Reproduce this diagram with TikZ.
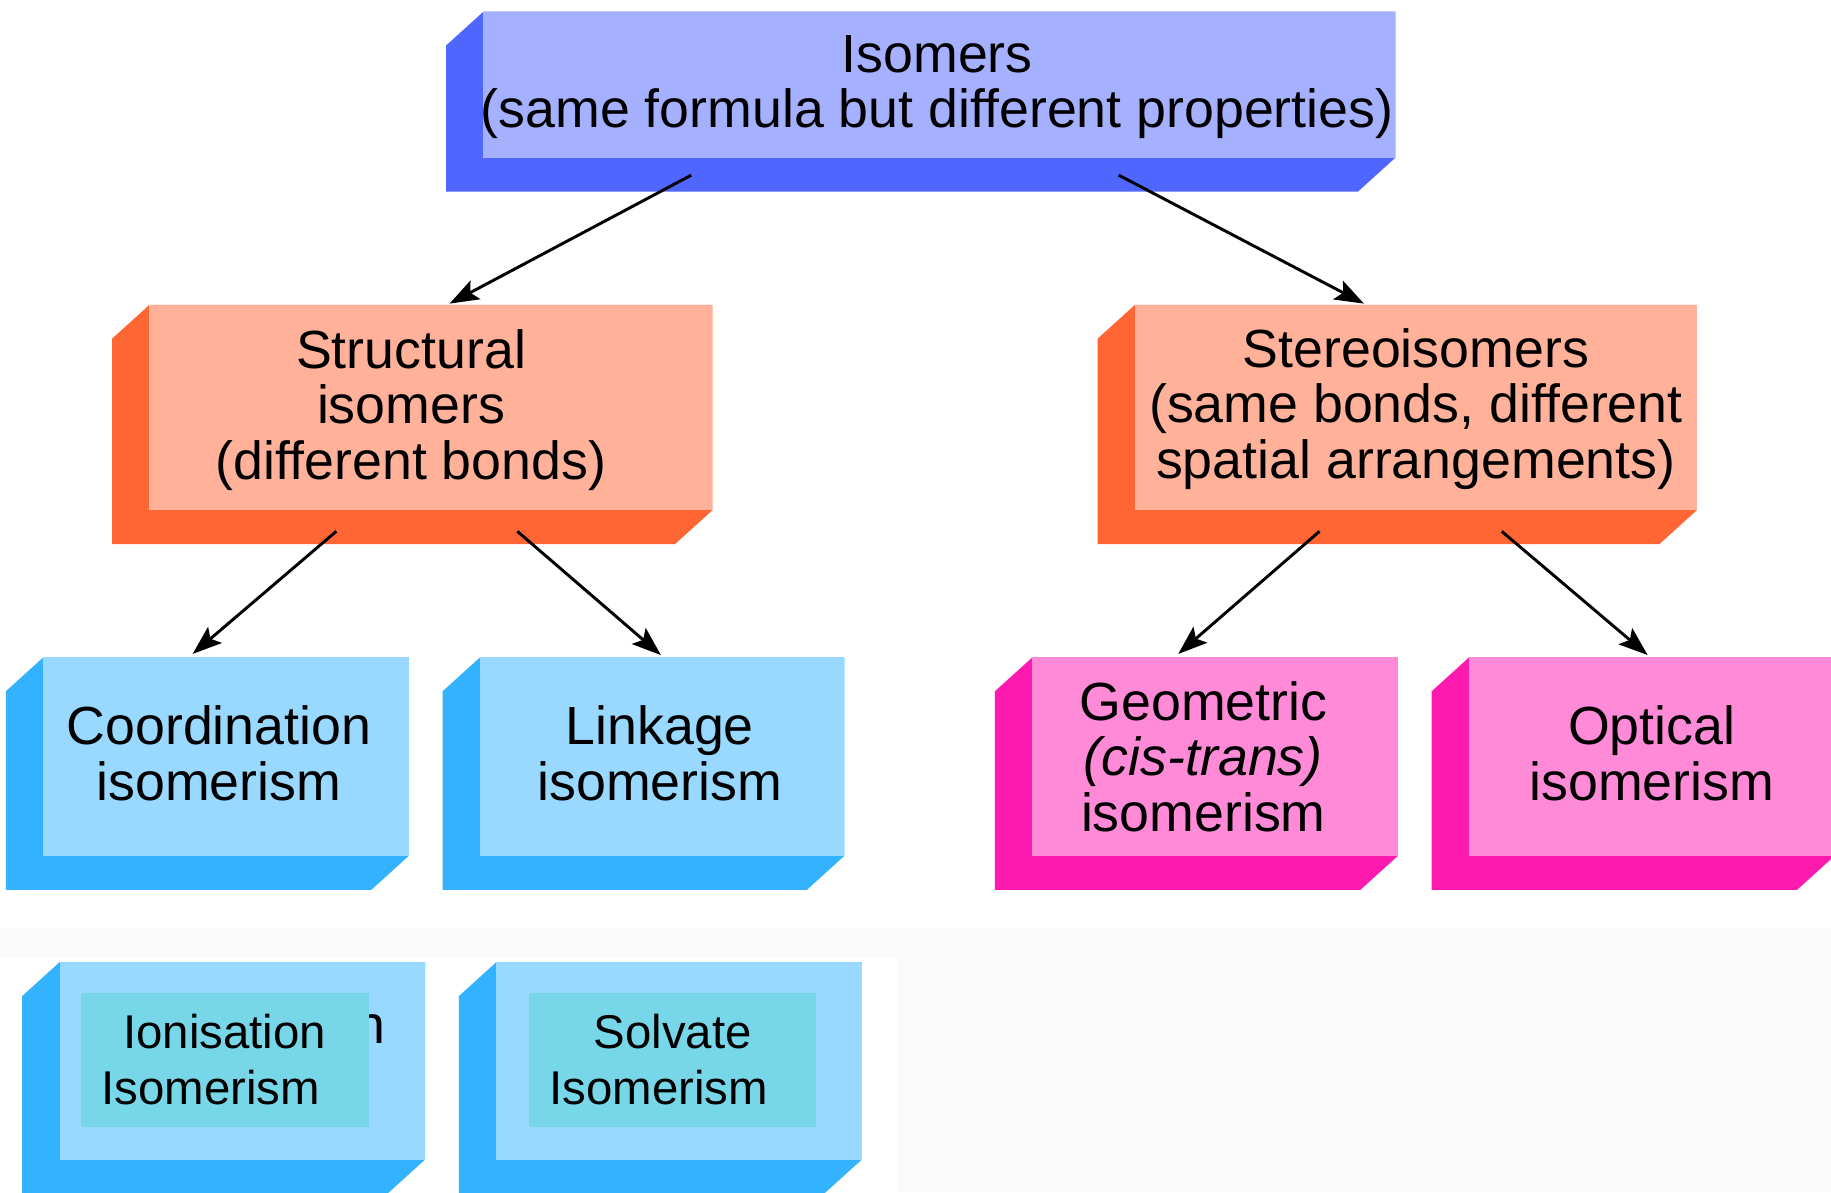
\documentclass[tikz,border=0pt]{standalone}
\usepackage{fontspec}
\setmainfont{Liberation Sans}
\usetikzlibrary{arrows.meta,fit}
\definecolor{topF}{HTML}{A5B0FF}
\definecolor{topS}{HTML}{4F66FF}
\definecolor{orF}{HTML}{FFB199}
\definecolor{orS}{HTML}{FF6633}
\definecolor{blF}{HTML}{99D8FF}
\definecolor{blS}{HTML}{33B3FF}
\definecolor{pkF}{HTML}{FF8AD8}
\definecolor{pkS}{HTML}{FF1AAF}
\definecolor{tealF}{HTML}{77D7E8}
\definecolor{bgPat}{HTML}{FAFAFA}
\newcommand\depthbox[5]{%
  \fill[#5] (#1-32,#2+29) -- (#1,#2) -- (#3,#2) -- (#3,#4) -- (#3-32,#4+29) -- (#1-32,#4+29) -- cycle;}
\begin{document}
\begin{tikzpicture}[x=0.5pt,y=-0.5pt,
  face/.style={inner sep=0pt, outer sep=0pt, draw=none},
  lbl/.style={align=center, font=\fontsize{23pt}{23.75pt}\selectfont, inner sep=0pt},
  lblsm/.style={align=center, font=\fontsize{20.3pt}{24pt}\selectfont, inner sep=0pt},
  conn/.style={-{Stealth[length=12.5pt,width=9pt,inset=2.5pt]}, line width=1.25pt}]
\useasboundingbox (0,0) rectangle (1568,1021);
\clip (0,0) rectangle (1568,1021);
% faint background band
\fill[bgPat] (0,795) rectangle (1568,1021);
\fill[white] (0,820) rectangle (768,1021);
% top
\depthbox{414}{10}{1195}{135}{topS}
\node[face, fill=topF, fit={(414,10)(1195,135)}] (top) {};
\node[lbl] (topT) at ([xshift=-1pt,yshift=-1pt]top.center) {Isomers\\(same formula but different properties)};
% level 2
\depthbox{128}{261}{610}{437}{orS}
\node[face, fill=orF, fit={(128,261)(610,437)}] (struct) {};
\node[lbl] (structT) at ([xshift=-8.5pt,yshift=-1pt]struct.center) {Structural\\isomers\\(different bonds)};
\depthbox{972}{261}{1453}{437}{orS}
\node[face, fill=orF, fit={(972,261)(1453,437)}] (stereo) {};
\node[lbl] (stereoT) at ([yshift=-0.5pt]stereo.center) {Stereoisomers\\(same bonds, different\\spatial arrangements)};
% level 3
\depthbox{37}{563}{350}{733}{blS}
\node[face, fill=blF, fit={(37,563)(350,733)}] (coord) {};
\node[lbl] (coordT) at ([xshift=-3pt,yshift=1.5pt]coord.center) {Coordination\\isomerism};
\depthbox{411}{563}{723}{733}{blS}
\node[face, fill=blF, fit={(411,563)(723,733)}] (link) {};
\node[lbl] (linkT) at ([xshift=-1pt,yshift=1.5pt]link.center) {Linkage\\isomerism};
\depthbox{884}{563}{1197}{733}{pkS}
\node[face, fill=pkF, fit={(884,563)(1197,733)}] (geo) {};
\node[lbl] (geoT) at ([xshift=-5pt]geo.center) {Geometric\\\textit{(cis-trans)}\\isomerism};
\depthbox{1258}{563}{1571}{733}{pkS}
\node[face, fill=pkF, fit={(1258,563)(1571,733)}] (opt) {};
\node[lbl] (optT) at ([yshift=1.5pt]opt.center) {Optical\\isomerism};
% level 4
\depthbox{51}{824}{364}{993}{blS}
\node[face, fill=blF, fit={(51,824)(364,993)}] (ion) {};
\node[lbl, anchor=base east] (ionHid) at (330,894) {n};
\node[face, fill=tealF, fit={(69,850)(316,965)}] (ionIn) {};
\node[lblsm] (ionT) at (ionIn.center) {Ionisation\\Isomerism\hspace*{12pt}};
\depthbox{425}{824}{738}{993}{blS}
\node[face, fill=blF, fit={(425,824)(738,993)}] (solv) {};
\node[face, fill=tealF, fit={(453,850)(699,965)}] (solvIn) {};
\node[lblsm] (solvT) at (solvIn.center) {Solvate\\Isomerism\hspace*{12pt}};
% connectors
\draw[conn] ([shift={(-212.5,15)}]top.south) -- ([shift={(16,-1)}]struct.north);
\draw[conn] ([shift={(153.5,15)}]top.south) -- ([shift={(-44.5,-1)}]stereo.north);
\draw[conn] ([shift={(-81,18)}]struct.south) -- ([shift={(-28.5,-3)}]coord.north);
\draw[conn] ([shift={(74,18)}]struct.south) -- ([shift={(-1,-2)}]link.north);
\draw[conn] ([shift={(-82.5,18)}]stereo.south) -- ([shift={(-31.5,-3)}]geo.north);
\draw[conn] ([shift={(73.5,18)}]stereo.south) -- ([shift={(-3.5,-2)}]opt.north);
\end{tikzpicture}
\end{document}
